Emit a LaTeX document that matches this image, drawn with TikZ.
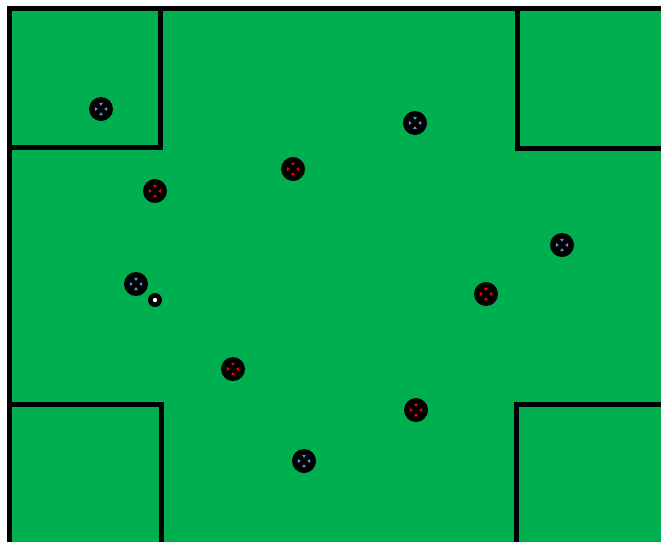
\documentclass[tikz,border=0pt]{standalone}
\usepackage{xcolor}
\usepackage{tikz}
\definecolor{pitchgreen}{RGB}{0,176,80}
\definecolor{teamblue}{RGB}{91,155,213}
\definecolor{teamred}{RGB}{255,0,0}
\newcommand{\pbc}{path picture bounding box.center}
\newcommand{\tri}[6]{\fill ([xshift=#1pt,yshift=#2pt]\pbc) -- ([xshift=#3pt,yshift=#4pt]\pbc) -- ([xshift=#5pt,yshift=#6pt]\pbc) -- cycle;}
\tikzset{
  wall/.style={line width=5pt,black,line join=miter},
  player/.style={circle,fill=black,inner sep=0pt,minimum size=24pt,
    path picture={\begin{scope}[fill=#1]
      \tri{3.2}{0}{6.2}{2}{6.2}{-2}
      \tri{-3.2}{0}{-6.2}{2}{-6.2}{-2}
      \tri{0}{3.2}{2}{6.2}{-2}{6.2}
      \tri{0}{-3.2}{2}{-6.2}{-2}{-6.2}
    \end{scope}}},
  ballmark/.style={circle,fill=black,inner sep=0pt,minimum size=14pt,
    path picture={\fill[white] (\pbc) circle (2.2pt);}}
}

\begin{document}
\begin{tikzpicture}[x=1pt,y=-1pt]
  \useasboundingbox (0,0) rectangle (661,542);
  \fill[white] (0,0) rectangle (661,542);
  \fill[pitchgreen] (7,6) rectangle (661,542);
  % outer border and corner boxes
  \draw[wall] (661,8.5) -- (9.5,8.5) -- (9.5,542);
  \draw[wall] (9.5,147) -- (160,147) -- (160,8.5);
  \draw[wall] (661,148.5) -- (517.5,148.5) -- (517.5,8.5);
  \draw[wall] (9.5,404.5) -- (161.5,404.5) -- (161.5,542);
  \draw[wall] (661,404.5) -- (516.5,404.5) -- (516.5,542);
  % blue team
  \node[player=teamblue] (blue1) at (101,109) {};
  \node[player=teamblue] (blue2) at (415,123) {};
  \node[player=teamblue] (blue3) at (562,245) {};
  \node[player=teamblue] (blue4) at (136,284) {};
  \node[player=teamblue] (blue5) at (304,461) {};
  % red team
  \node[player=teamred] (red1) at (155,191) {};
  \node[player=teamred] (red2) at (293,169) {};
  \node[player=teamred] (red3) at (486,294) {};
  \node[player=teamred] (red4) at (233,369) {};
  \node[player=teamred] (red5) at (416,410) {};
  % ball
  \node[ballmark] (ball) at (155,300) {};
\end{tikzpicture}
\end{document}
